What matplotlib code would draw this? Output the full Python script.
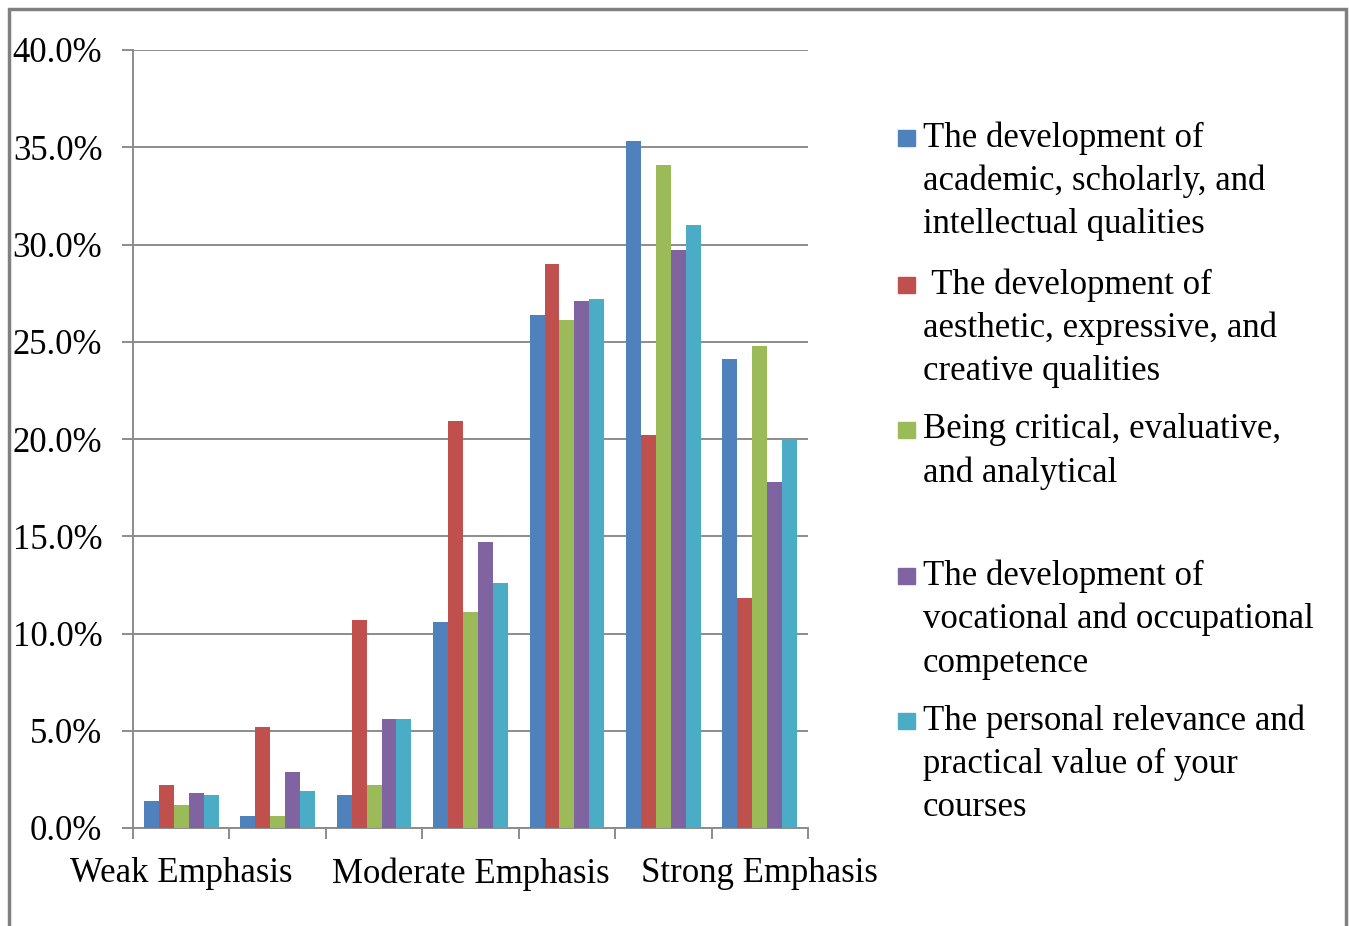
import numpy as np
import matplotlib.pyplot as plt
from matplotlib.patches import Rectangle

# ---- data ----
categories = ["Weak Emphasis", "", "", "Moderate Emphasis", "", "", "Strong Emphasis"]
academic = [1.4, 0.6, 1.7, 10.6, 26.4, 35.3, 24.1]
aesthetic = [2.2, 5.2, 10.7, 20.9, 29.0, 20.2, 11.8]
critical = [1.2, 0.6, 2.2, 11.1, 26.1, 34.1, 24.8]
vocational = [1.8, 2.9, 5.6, 14.7, 27.1, 29.7, 17.8]
personal = [1.7, 1.9, 5.6, 12.6, 27.2, 31.0, 20.0]
y_ticks = [0, 5, 10, 15, 20, 25, 30, 35, 40]

legend_lines = [
    ["The development of", "academic, scholarly, and", "intellectual qualities"],
    [" The development of", "aesthetic, expressive, and", "creative qualities"],
    ["Being critical, evaluative,", "and analytical"],
    ["The development of", "vocational and occupational", "competence"],
    ["The personal relevance and", "practical value of your", "courses"],
]
series = [academic, aesthetic, critical, vocational, personal]
colors = ["#4F81BD", "#C0504D", "#9BBB59", "#8064A2", "#4BACC6"]

plt.rcParams['font.family'] = ['Liberation Serif', 'DejaVu Serif']
FS = 25

W, H = 1349, 926
fig = plt.figure(figsize=(W / 100, H / 100), dpi=100)
ax = fig.add_axes([133 / W, 1 - 828 / H, (808 - 133) / W, (828 - 50) / H])

x = np.arange(len(categories))
bw = 0.155
for k, (vals, c) in enumerate(zip(series, colors)):
    ax.bar(x + (k - 2) * bw, vals, width=bw, color=c, zorder=3)

grey = '#8c8c8c'
ax.set_xlim(-0.5, len(categories) - 0.5)
ax.set_ylim(0, 40)
ax.set_yticks(y_ticks)
ax.set_yticklabels([f"{v:.1f}%" for v in y_ticks], fontsize=FS)
ax.yaxis.grid(True, color=grey, lw=1.4, zorder=0)
ax.set_axisbelow(True)
for s in ['top', 'right']:
    ax.spines[s].set_visible(False)
for s in ['left', 'bottom']:
    ax.spines[s].set_color(grey)
    ax.spines[s].set_linewidth(1.4)
ax.tick_params(axis='y', length=8, width=1.4, color=grey, pad=14, labelcolor='black')

ax.set_xticks(np.arange(-0.5, len(categories)), labels=[""] * (len(categories) + 1))
ax.tick_params(axis='x', which='major', length=8, width=1.4, color=grey)
ax.set_xticks(x, labels=categories, minor=True)
ax.tick_params(axis='x', which='minor', length=0, pad=21, labelsize=FS, labelcolor='black')

# legend drawn manually (Excel-style evenly distributed entries)
first_line_y = [138, 285, 430, 576, 721]
pitch = 43.5
for lines, c, y0 in zip(legend_lines, colors, first_line_y):
    fig.add_artist(Rectangle((898 / W, 1 - (y0 + 8) / H), 17 / W, 16 / H,
                             transform=fig.transFigure, color=c))
    for i, t in enumerate(lines):
        fig.text(923 / W, 1 - (y0 + i * pitch) / H, t, fontsize=FS,
                 va='center', ha='left')

# outer frame
fig.add_artist(Rectangle((9 / W, -0.05), (1346 - 9) / W, 1 - 9 / H + 0.05,
                         transform=fig.transFigure, fill=False,
                         edgecolor='#808080', lw=2.5))

fig.savefig('out.png', dpi=100)
